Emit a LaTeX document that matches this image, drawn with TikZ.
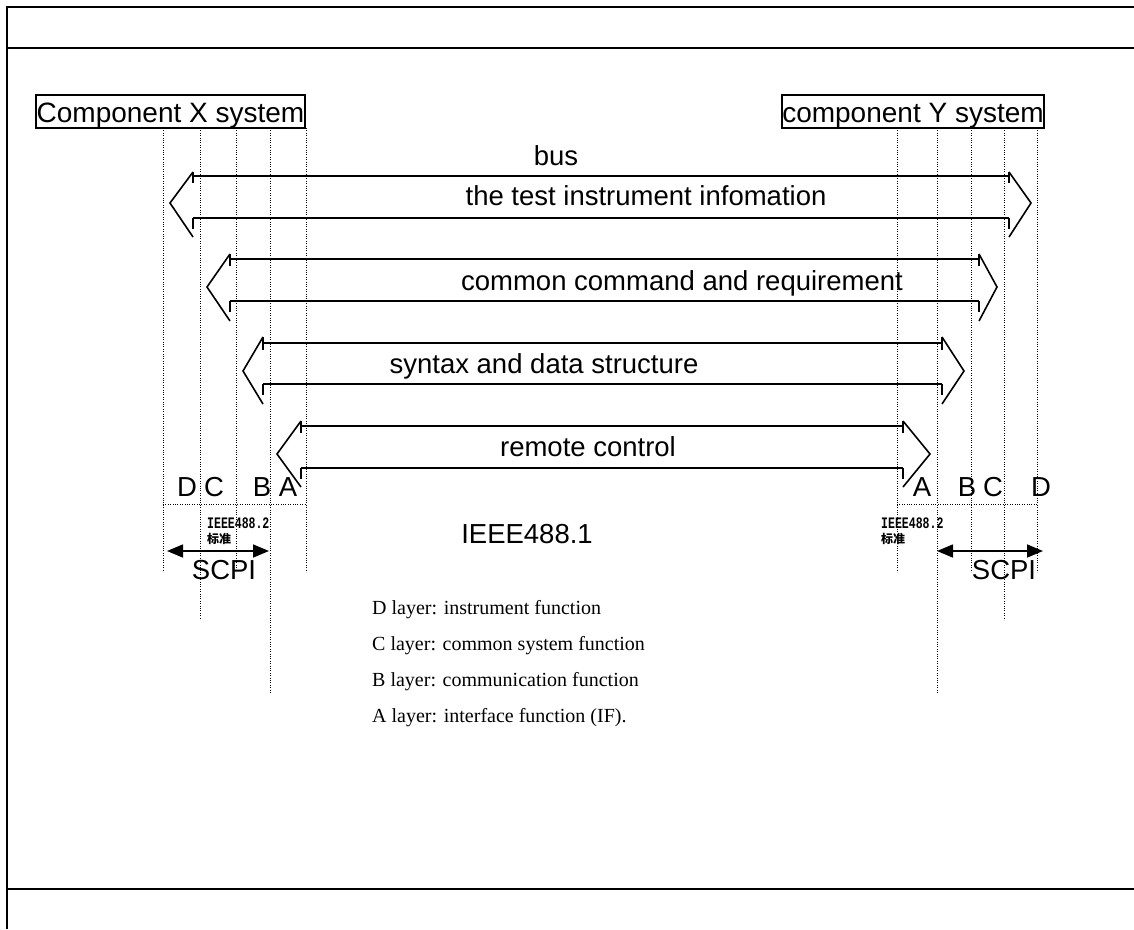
\documentclass[tikz,border=0pt]{standalone}
\usepackage{graphicx}
\usepackage{fontspec}
\setmainfont{Liberation Serif}
\setsansfont{Liberation Sans}
\newfontfamily\arialf{Liberation Sans}
\newfontfamily\monof{Liberation Mono}
\newfontfamily\cjkf{Noto Sans CJK SC}
\usetikzlibrary{arrows.meta}
\newcommand\dblarrow[9]{%
  \draw[blockline] (#1,#5) -- (#3,#5);
  \draw[blockline] (#1,#6) -- (#3,#6);
  \draw[blockline] (#1,#7) -- (#2,#9) -- (#1,#8);
  \draw[blockline] (#3,#7) -- (#4,#9) -- (#3,#8);
  \draw[blockline] (#1,#7) -- (#1,#5+7) (#1,#6) -- (#1,#6+11)
                   (#3,#7) -- (#3,#5+7) (#3,#6) -- (#3,#6+11);
}
\begin{document}
\begin{tikzpicture}[x=1pt,y=-1pt,
  frame/.style={line width=1.6pt},
  dotline/.style={line width=1pt, dash pattern=on 1pt off 1.4pt},
  blockline/.style={line width=1.6pt},
  lbl/.style={font=\arialf\fontsize{27.5}{30}\selectfont, inner sep=0, anchor=base},
  sysbox/.style={draw, line width=1.6pt, inner sep=0, font=\arialf\fontsize{28}{30}\selectfont, text height=25pt, text depth=4pt, minimum height=33pt},
  layer/.style={font=\fontsize{20}{24}\selectfont, inner sep=0, anchor=base west},
  scpi/.style={line width=1.6pt, {Triangle[length=16pt,width=13pt]}-{Triangle[length=16pt,width=13pt]}},
  tinytxt/.style={inner sep=0, anchor=base west, font=\monof\bfseries\fontsize{16}{16}\selectfont},
  tinycjk/.style={inner sep=0, anchor=base west, font=\cjkf\bfseries\fontsize{12}{12}\selectfont}
]
\useasboundingbox (0,0) rectangle (1134,929);
% frame
\draw[frame] (1134,7) -- (7,7) -- (7,929);
\draw[frame] (7,48) -- (1134,48);
\draw[frame] (7,889) -- (1134,889);
% system boxes
\node[sysbox, minimum width=269pt] (compX) at (170.5,111.5) {Component X system};
\node[sysbox, minimum width=262pt] (compY) at (913,111.5) {component Y system};
% dotted verticals
\draw[dotline] (163,128) -- (163,570);
\draw[dotline] (200,128) -- (200,618);
\draw[dotline] (236,128) -- (236,572);
\draw[dotline] (270,128) -- (270,693);
\draw[dotline] (306,128) -- (306,572);
\draw[dotline] (897,128) -- (897,572);
\draw[dotline] (937,128) -- (937,693);
\draw[dotline] (971,128) -- (971,572);
\draw[dotline] (1004,128) -- (1004,620);
\draw[dotline] (1037,128) -- (1037,572);
\draw[dotline] (163,504) -- (306,504);
\draw[dotline] (897,504) -- (1037,504);
% block arrows
\dblarrow{193}{170}{1009}{1031}{176}{218}{172}{237}{203}
\dblarrow{230}{207}{979}{997}{259}{301}{254}{321}{287}
\dblarrow{263}{243}{942}{964}{343}{384}{337}{404}{371}
\dblarrow{301}{277}{903}{930}{426}{468}{421}{487}{454}
% arrow labels
\node[lbl] (bus) at (556,165) {bus};
\node[lbl] (info) at (646,205) {the test instrument infomation};
\node[lbl] (cmd) at (682,290) {common command and requirement};
\node[lbl] (syn) at (544,373) {syntax and data structure};
\node[lbl] (rc) at (588,456) {remote control};
% layer letters
\node[lbl] (lD) at (187,496) {D};
\node[lbl] (lC) at (214,496) {C};
\node[lbl] (lB) at (262,496) {B};
\node[lbl] (lA) at (288,496) {A};
\node[lbl] (rA) at (922,496) {A};
\node[lbl] (rB) at (967,496) {B};
\node[lbl] (rC) at (993,496) {C};
\node[lbl] (rD) at (1041,496) {D};
% standards
\node[lbl] (ieee1) at (527,543) {IEEE488.1};
\node[tinytxt] (ieee2L) at (207,528.5) {\scalebox{0.72}[1]{IEEE488.2}};
\node[tinycjk] (stdL) at (207,543) {标准};
\node[tinytxt] (ieee2R) at (881,528.5) {\scalebox{0.72}[1]{IEEE488.2}};
\node[tinycjk] (stdR) at (881,543) {标准};
% SCPI
\coordinate (sL1) at (167,551);
\coordinate (sL2) at (269,551);
\coordinate (sR1) at (937,551);
\coordinate (sR2) at (1043,551);
\draw[scpi] (sL1) -- (sL2);
\draw[scpi] (sR1) -- (sR2);
\node[lbl] (scpiL) at (224,579) {SCPI};
\node[lbl] (scpiR) at (1004,579) {SCPI};
% layer descriptions
\node[layer] (dD) at (372,614) {D layer: instrument function};
\node[layer] (dC) at (372,650) {C layer: common system function};
\node[layer] (dB) at (372,686) {B layer: communication function};
\node[layer] (dA) at (372,722) {A layer: interface function (IF).};
\end{tikzpicture}
\end{document}
